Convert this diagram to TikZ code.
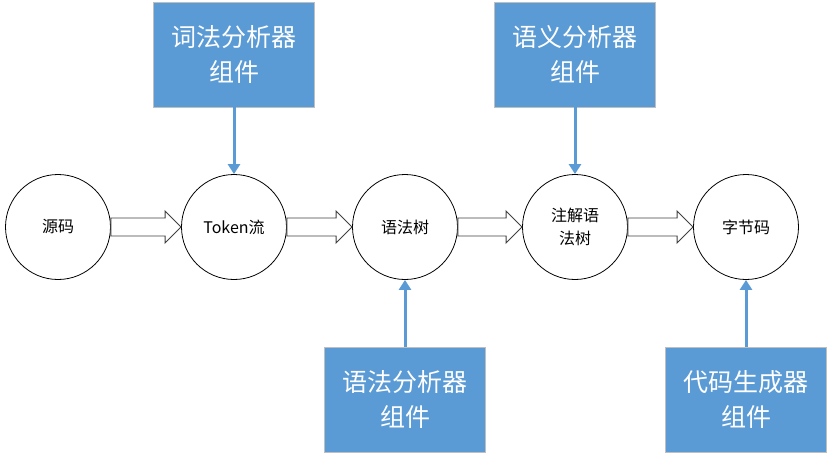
\documentclass[tikz,border=0pt]{standalone}
\usepackage{fontspec}
\newfontfamily\cjk{Noto Sans CJK SC}
\usepackage{xcolor}
\usepackage{tikz}
\usetikzlibrary{calc}
\usetikzlibrary {arrows.meta}
\definecolor{B0}{HTML}{5B9BD5}
\definecolor{G0}{HTML}{404040}
\definecolor{G1}{HTML}{BFBFBF}

\begin{document}
\begin{tikzpicture}[x=1pt,y=-1pt,
  stage/.style={circle, draw, line width=0.8pt, minimum size=105pt, inner sep=0pt, align=center, font=\cjk\fontsize{16}{23}\selectfont},
  tool/.style={rectangle, draw=G1, line width=0.8pt, fill=B0, text=white, minimum width=161pt, minimum height=105pt, inner sep=0pt, align=center, font=\cjk\fontsize{25}{35}\selectfont}]
\useasboundingbox (0,0) rectangle (830,455);
% compile stages
\node[stage] (src) at (58,227) {源码};
\node[stage] (tok) at (234,227) {Token流};
\node[stage] (ast) at (405,227) {语法树};
\node[stage] (anno) at (575,227) {注解语\\法树};
\node[stage] (code) at (746,227) {字节码};
% components
\node[tool] (lex) at (234,54.5) {词法分析器\\组件};
\node[tool] (sem) at (575,54.5) {语义分析器\\组件};
\node[tool] (par) at (405,399.5) {语法分析器\\组件};
\node[tool] (gen) at (746,399.5) {代码生成器\\组件};
%
\foreach \a/\b in {src/tok,tok/ast,ast/anno,anno/code}
  \draw[G0, line width=0.9pt, fill=white] ($(\a.east)+(0,-9)$) -- ($(\b.west)+(-16,-9)$) -- ($(\b.west)+(-16,-16)$) -- (\b.west) -- ($(\b.west)+(-16,16)$) -- ($(\b.west)+(-16,9)$) -- ($(\a.east)+(0,9)$) -- cycle;
%
\draw[-{Triangle[width=12pt,length=10pt]}, line width=3pt, B0] (lex.south) -- (tok.north);
\draw[-{Triangle[width=12pt,length=10pt]}, line width=3pt, B0] (sem.south) -- (anno.north);
\draw[-{Triangle[width=12pt,length=10pt]}, line width=3pt, B0] (par.north) -- (ast.south);
\draw[-{Triangle[width=12pt,length=10pt]}, line width=3pt, B0] (gen.north) -- (code.south);
\end{tikzpicture}
\end{document}
